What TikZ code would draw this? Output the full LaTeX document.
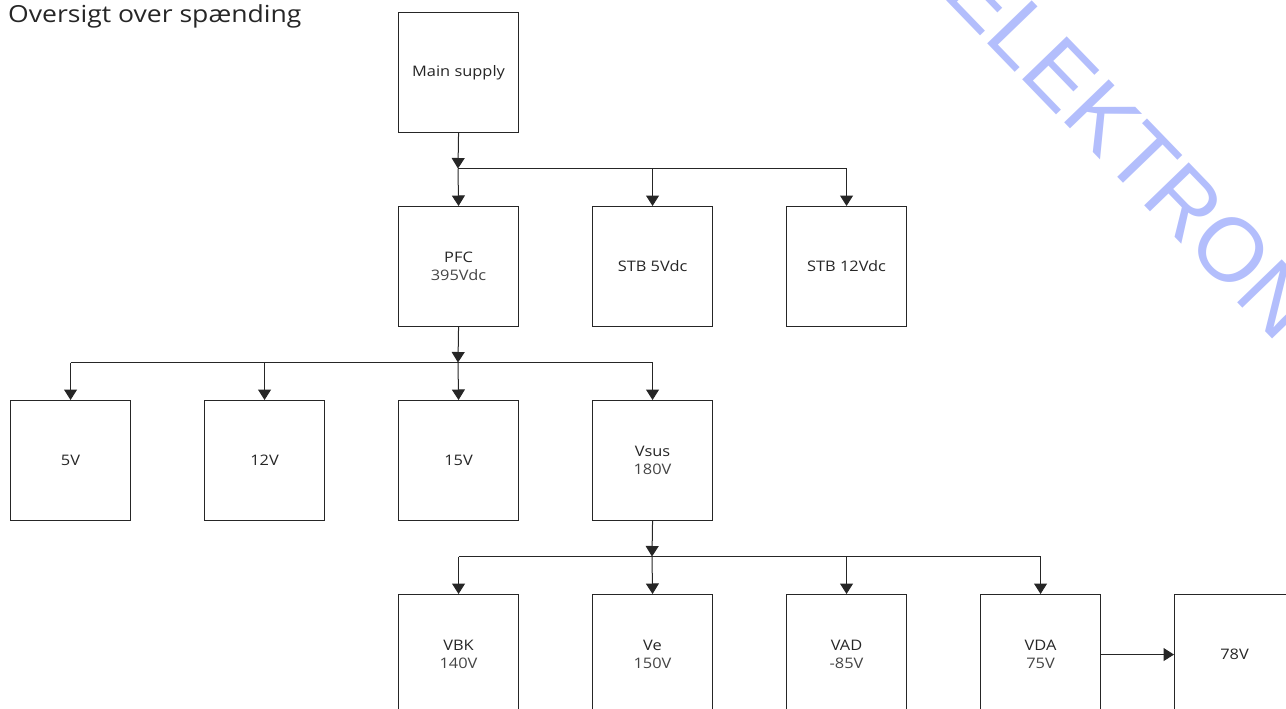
\documentclass[tikz,border=0pt]{standalone}
\usepackage{fontspec}
\setmainfont{Open Sans}[FakeStretch=1.13]
\newfontfamily\wmfont{Liberation Sans}
\usetikzlibrary{arrows.meta}
\definecolor{ink}{HTML}{262626}
\definecolor{valink}{HTML}{454545}
\definecolor{wmblue}{HTML}{B3BEFC}

\begin{document}
\begin{tikzpicture}[x=1pt,y=-1pt,
  blk/.style={draw=ink, line width=1.1pt, minimum width=120pt, minimum height=120pt,
              inner sep=0pt, align=center, anchor=north west, text=ink,
              font=\fontsize{14.5}{18}\selectfont},
  wire/.style={draw=ink, line width=1pt},
  feed/.style={wire, -{Triangle[length=10.5pt,width=13pt]}}]
\useasboundingbox (0,0) rectangle (1286,709);
\clip (0,0) rectangle (1286,709);

% watermark
\node[rotate=-46, anchor=base west, inner sep=0pt, text=wmblue,
      font=\wmfont\fontsize{90}{90}\selectfont] (wmark) at (941,-5) {ELEKTRON};

% title
\node[anchor=base west, inner sep=0pt, text=ink, font=\fontsize{23.5}{28}\selectfont]
  (title) at (8,23) {Oversigt over spænding};

% blocks
\node[blk] (main) at (398,12) {Main supply};
\node[blk] (pfc)  at (398,206) {PFC\\{\color{valink}395Vdc}};
\node[blk] (stb5) at (592,206) {STB 5Vdc};
\node[blk] (stb12) at (786,206) {STB 12Vdc};

\node[blk] (v5)   at (10,400)  {5V};
\node[blk] (v12)  at (204,400) {12V};
\node[blk] (v15)  at (398,400) {15V};
\node[blk] (vsus) at (592,400) {Vsus\\{\color{valink}180V}};

\node[blk] (vbk) at (398,594)  {VBK\\{\color{valink}140V}};
\node[blk] (ve)  at (592,594)  {Ve\\{\color{valink}150V}};
\node[blk] (vad) at (786,594)  {VAD\\{\color{valink}-85V}};
\node[blk] (vda) at (980,594)  {VDA\\{\color{valink}75V}};
\node[blk] (v78) at (1174,594) {78V};

% distribution busses
\coordinate (b1) at (458,168.5);
\coordinate (b2) at (458,362.5);
\coordinate (b3) at (652,556.5);

% main supply feed
\draw[feed] (main.south) -- (b1);
\draw[wire] (b1) -- (b1 -| stb12.north);
\draw[feed] (b1) -- (pfc.north);
\draw[feed] (b1 -| stb5.north) -- (stb5.north);
\draw[feed] (b1 -| stb12.north) -- (stb12.north);

% PFC feed
\draw[feed] (pfc.south) -- (b2);
\draw[wire] (b2 -| v5.north) -- (b2 -| vsus.north);
\draw[feed] (b2 -| v5.north) -- (v5.north);
\draw[feed] (b2 -| v12.north) -- (v12.north);
\draw[feed] (b2) -- (v15.north);
\draw[feed] (b2 -| vsus.north) -- (vsus.north);

% Vsus feed
\draw[feed] (vsus.south) -- (b3);
\draw[wire] (b3 -| vbk.north) -- (b3 -| vda.north);
\draw[feed] (b3 -| vbk.north) -- (vbk.north);
\draw[feed] (b3) -- (ve.north);
\draw[feed] (b3 -| vad.north) -- (vad.north);
\draw[feed] (b3 -| vda.north) -- (vda.north);

\draw[feed] (vda.east) -- (v78.west);
\end{tikzpicture}
\end{document}
